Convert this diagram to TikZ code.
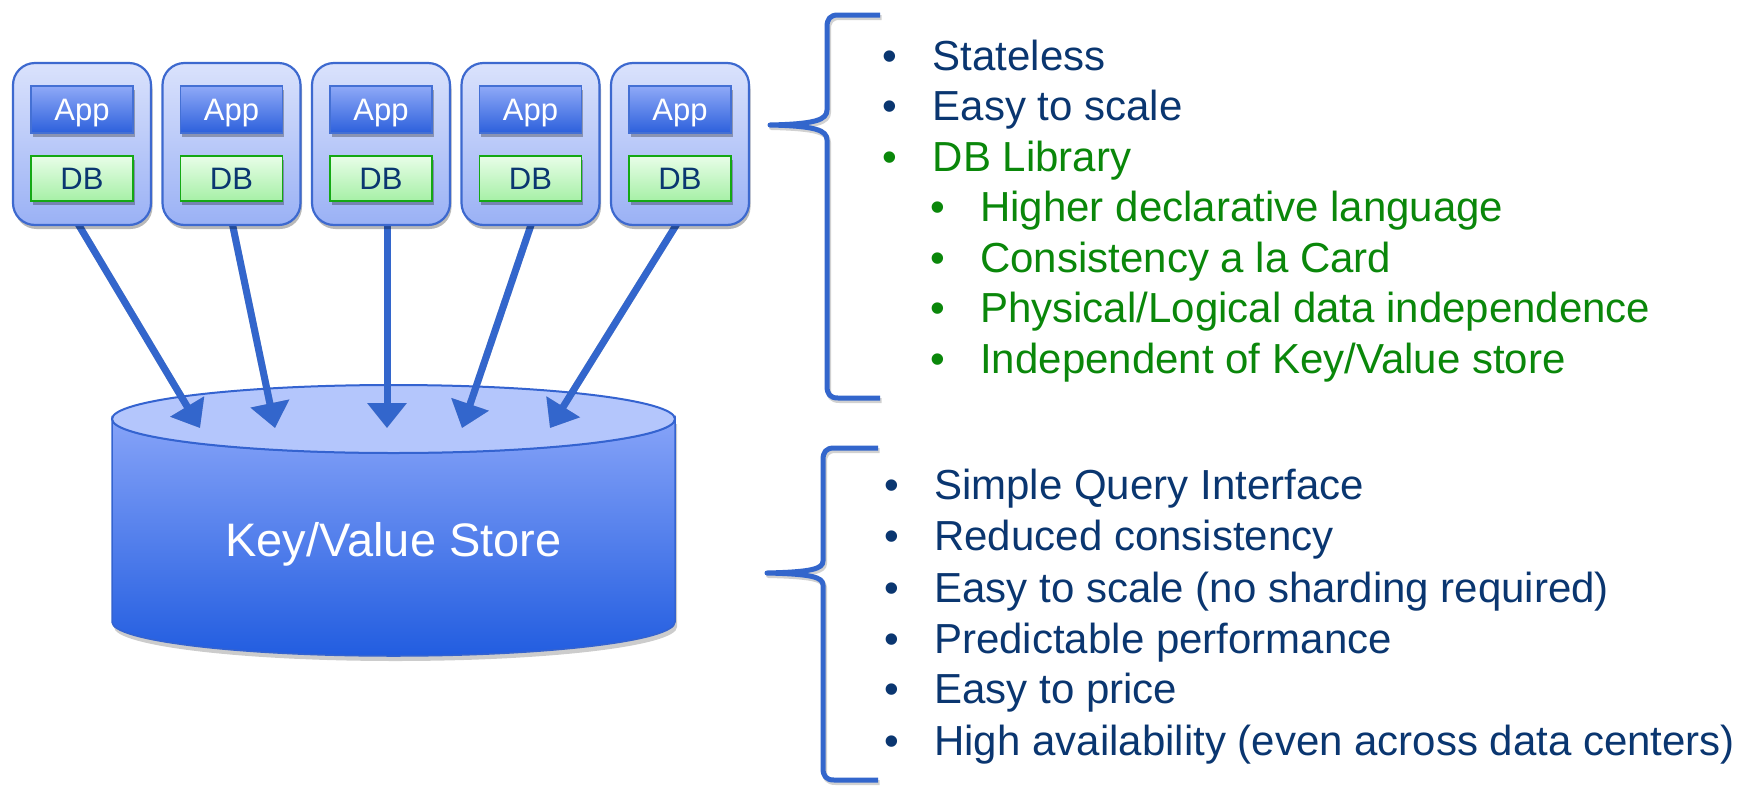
\documentclass[tikz,border=0pt]{standalone}
\usepackage{fontspec}
\setmainfont{Liberation Sans}
\usetikzlibrary{arrows.meta,shadows,calc}

\definecolor{navy}{HTML}{0A3670}
\definecolor{leaf}{HTML}{0A870A}
\definecolor{linkBlue}{HTML}{3366CC}
\definecolor{serverTop}{HTML}{DAE2FC}
\definecolor{serverBottom}{HTML}{9AB1F5}
\definecolor{serverEdge}{HTML}{3D69CF}
\definecolor{appTop}{HTML}{8FA9F7}
\definecolor{appBottom}{HTML}{2C60DC}
\definecolor{appEdge}{HTML}{4470D4}
\definecolor{dbTop}{HTML}{E8FDE8}
\definecolor{dbBottom}{HTML}{A6F0A6}
\definecolor{dbEdge}{HTML}{14A814}
\definecolor{cylTop}{HTML}{86A3F8}
\definecolor{cylBottom}{HTML}{225DE0}
\definecolor{cylLid}{HTML}{B4C6FC}
\definecolor{cylEdge}{HTML}{3463D0}

\pgfdeclarelayer{back}
\pgfsetlayers{back,main}

\begin{document}
\begin{tikzpicture}[x=1pt,y=-1pt,
  softshade/.style={drop shadow={shadow xshift=1.5pt,shadow yshift=-4pt,opacity=0.28,fill=black}},
  server/.style={draw=serverEdge,line width=2.2pt,rounded corners=22pt,
    minimum width=138pt,minimum height=162pt,inner sep=0pt,
    top color=serverTop,bottom color=serverBottom,softshade},
  appbox/.style={draw=appEdge,line width=1.3pt,minimum width=102pt,minimum height=47pt,
    inner sep=0pt,top color=appTop,bottom color=appBottom,text=white,
    font=\fontsize{31}{36}\selectfont,text height=22pt,text depth=0pt,softshade},
  dbbox/.style={draw=dbEdge,line width=1.8pt,minimum width=102pt,minimum height=45pt,
    inner sep=0pt,top color=dbTop,bottom color=dbBottom,text=navy,
    font=\fontsize{31}{36}\selectfont,text height=22pt,text depth=0pt,softshade},
  feed/.style={draw=linkBlue,line width=7pt,-{Triangle[width=38pt,length=25pt]}},
  feedshade/.style={draw=black,opacity=0.2,line width=7pt,-{Triangle[width=38pt,length=25pt]},
    xshift=1.5pt,yshift=-2.5pt},
  brace/.style={draw=linkBlue,line width=5pt,line join=round},
  braceshade/.style={draw=black,opacity=0.18,line width=5pt,line join=round,xshift=1.5pt,yshift=-2.5pt},
  item/.style={anchor=base west,inner sep=0pt,font=\fontsize{42}{50}\selectfont},
]
\useasboundingbox (0,0) rectangle (1746,785);

% application servers, each with its app layer and DB library
\foreach \i/\cx in {1/82,2/231.5,3/381,4/530.5,5/680}{
  \node[server] (srv\i) at (\cx,144) {};
  \node[appbox] (app\i) at (\cx,109.5) {App};
  \node[dbbox] (db\i) at (\cx,178.5) {DB};
}

% key/value store label
\node[text=white,font=\fontsize{47}{56}\selectfont,anchor=base,inner sep=0pt] (kv) at (393.5,556) {Key/Value Store};

% landing points of the arrows on the lid
\coordinate (t1) at (200,428);
\coordinate (t2) at (275,428);
\coordinate (t3) at (387,428);
\coordinate (t4) at (462,428);
\coordinate (t5) at (550,428);

\begin{pgfonlayer}{back}
  \fill[white] (0,0) rectangle (1746,785);
  % cylinder body with shadow
  \path[fill=black,opacity=0.2,xshift=2pt,yshift=-5pt]
    (112,419) -- (112,622) arc[start angle=180,end angle=360,x radius=281.5pt,y radius=34pt]
    -- (675,419) -- cycle;
  \path[draw=cylEdge,line width=1.5pt,top color=cylTop,bottom color=cylBottom]
    (112,419) -- (112,622) arc[start angle=180,end angle=360,x radius=281.5pt,y radius=34pt]
    -- (675,419) arc[start angle=0,end angle=-180,x radius=281.5pt,y radius=34pt] -- cycle;
  \path[draw=cylEdge,line width=2pt,fill=cylLid] (393.5,419) ellipse[x radius=281.5pt,y radius=34pt];
  % arrows from the servers into the store
  \foreach \i/\dx in {1/-5,2/0.5,3/6,4/1.5,5/-2}{
    \draw[feedshade] ($(srv\i.south)+(\dx,-4)$) -- (t\i);
    \draw[feed] ($(srv\i.south)+(\dx,-4)$) -- (t\i);
  }
\end{pgfonlayer}

% braces
\foreach \st in {braceshade,brace}{
  \draw[\st] (880,15) -- (838,15) .. controls (830,15) and (827,19) .. (827,27)
    -- (827,110) .. controls (827,120) and (815,124) .. (770,125)
    .. controls (815,126) and (827,130) .. (827,140)
    -- (827,386) .. controls (827,394) and (830,398) .. (838,398) -- (880,398);
  \draw[\st] (878,448) -- (834,448) .. controls (826,448) and (823,452) .. (823,460)
    -- (823,561) .. controls (823,569) and (811,572) .. (767,573)
    .. controls (811,574) and (823,577) .. (823,585)
    -- (823,768) .. controls (823,776) and (826,780) .. (834,780) -- (878,780);
}

% properties of the application tier
\node[item,text=navy] (u1) at (882.6,70) {\makebox[50pt][l]{•}Stateless};
\node[item,text=navy] (u2) at (882.6,120.5) {\makebox[50pt][l]{•}Easy to scale};
\node[item,text=leaf] (u3) at (882.6,171) {\makebox[50pt][l]{•}DB Library};
\node[item,text=leaf] (u4) at (930.6,221.5) {\makebox[49.5pt][l]{•}Higher declarative language};
\node[item,text=leaf] (u5) at (930.6,272) {\makebox[49.5pt][l]{•}Consistency a la Card};
\node[item,text=leaf] (u6) at (930.6,322.5) {\makebox[49.5pt][l]{•}Physical/Logical data independence};
\node[item,text=leaf] (u7) at (930.6,373) {\makebox[49.5pt][l]{•}Independent of Key/Value store};

% properties of the storage tier
\node[item,text=navy] (l1) at (884.6,499) {\makebox[49.5pt][l]{•}Simple Query Interface};
\node[item,text=navy] (l2) at (884.6,550.5) {\makebox[49.5pt][l]{•}Reduced consistency};
\node[item,text=navy] (l3) at (884.6,602) {\makebox[49.5pt][l]{•}Easy to scale (no sharding required)};
\node[item,text=navy] (l4) at (884.6,653) {\makebox[49.5pt][l]{•}Predictable performance};
\node[item,text=navy] (l5) at (884.6,703.5) {\makebox[49.5pt][l]{•}Easy to price};
\node[item,text=navy] (l6) at (884.6,755) {\makebox[49.5pt][l]{•}High availability (even across data centers)};
\end{tikzpicture}
\end{document}
